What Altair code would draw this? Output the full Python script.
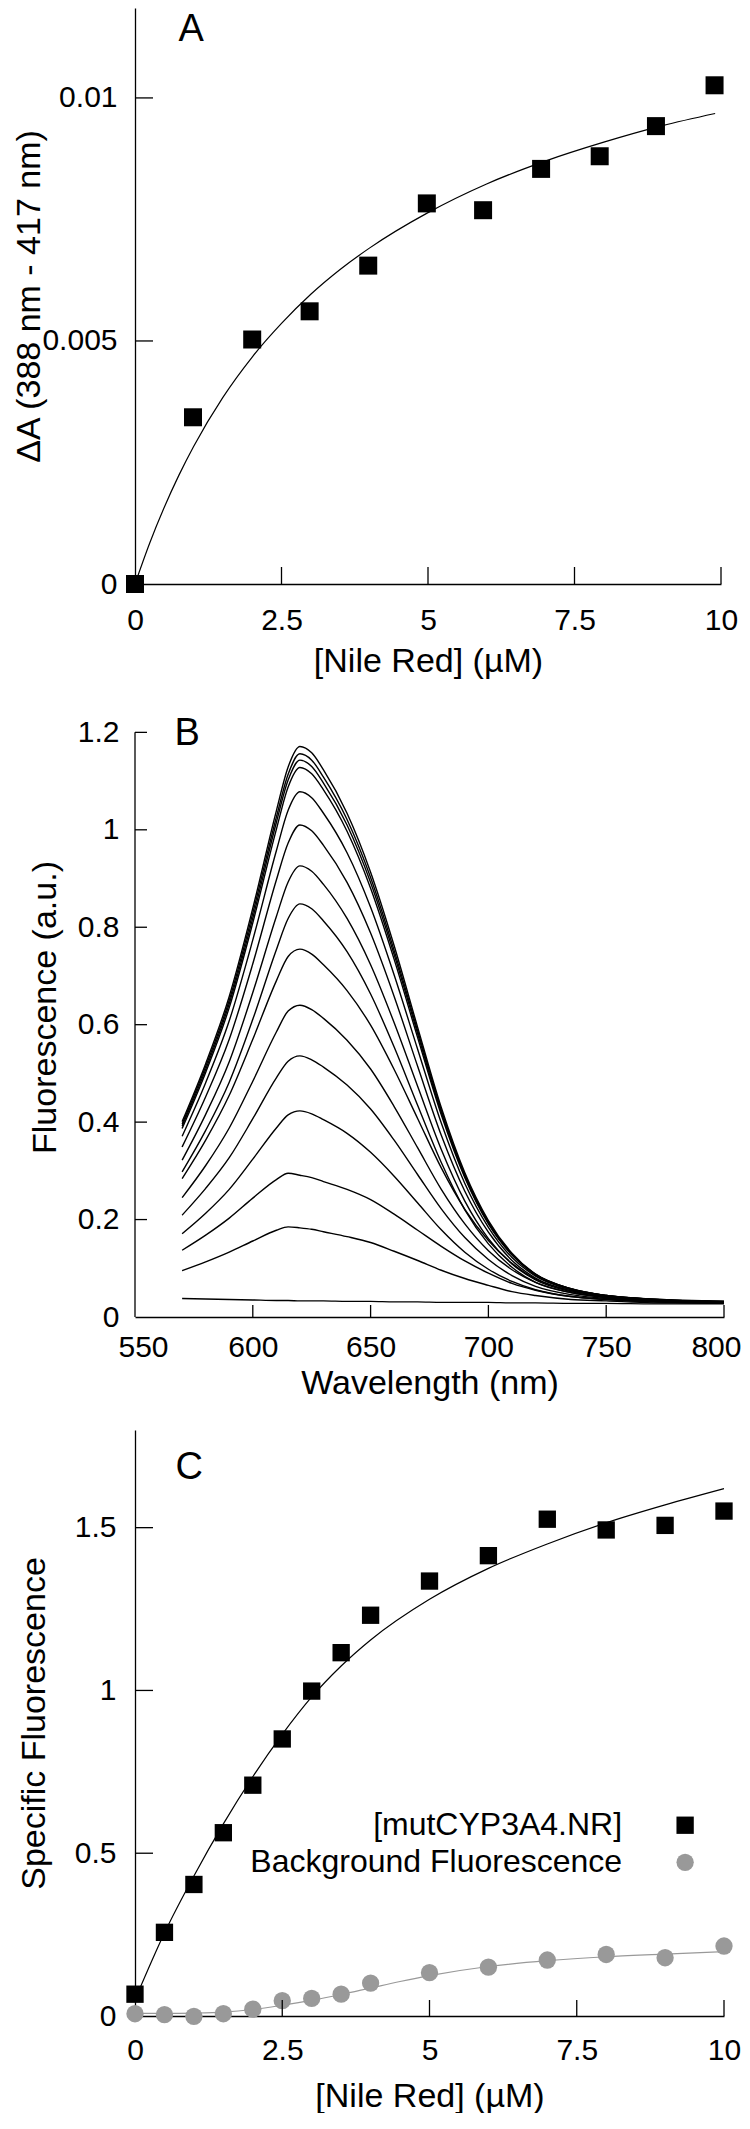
import altair as alt
import pandas as pd

FONT = "Liberation Sans"
INK = "#000000"
GRAY = "#999999"

# ---------------- Panel A : difference absorbance titration ----------------
a_conc = [0, 0.99, 2.0, 2.98, 3.98, 4.98, 5.94, 6.93, 7.93, 8.89, 9.89]
a_delta = [0.0, 0.00343, 0.00503, 0.00561, 0.00655, 0.00783, 0.00769, 0.00854, 0.0088, 0.00942, 0.01026]
a_fit_conc = [0, 0.25, 0.5, 0.75, 1, 1.5, 2, 2.5, 3, 3.5, 4, 5, 6, 7, 8, 9, 9.9]
a_fit_delta = [0, 0.00084, 0.00158, 0.00224, 0.00283, 0.00384, 0.00467, 0.00536, 0.00596, 0.00647,
               0.00691, 0.00764, 0.00823, 0.0087, 0.00909, 0.00943, 0.00968]
a_xvalues = [0, 2.5, 5, 7.5, 10]
a_yvalues = [0, 0.005, 0.01]
a_xticks = [2.5, 5, 7.5, 10]
a_yticks = [0.005, 0.01]

# ---------------- Panel B : emission spectra ----------------
b_wavelength = [570, 580, 590, 600, 610, 615, 620, 625, 630, 640, 650, 660, 670, 680, 690, 700, 710, 720, 735, 750, 770, 800]
b_spec_00 = [0.038, 0.037, 0.036, 0.035, 0.034, 0.034, 0.033, 0.033, 0.033, 0.032, 0.032, 0.031, 0.031, 0.030, 0.030, 0.030, 0.029, 0.029, 0.028, 0.028, 0.027, 0.027]
b_spec_01 = [0.095, 0.113, 0.133, 0.156, 0.178, 0.185, 0.183, 0.180, 0.175, 0.165, 0.153, 0.135, 0.116, 0.096, 0.079, 0.065, 0.052, 0.044, 0.036, 0.033, 0.029, 0.028]
b_spec_02 = [0.137, 0.168, 0.203, 0.244, 0.282, 0.295, 0.291, 0.286, 0.278, 0.262, 0.241, 0.211, 0.178, 0.145, 0.115, 0.090, 0.069, 0.055, 0.042, 0.036, 0.031, 0.029]
b_spec_03 = [0.171, 0.213, 0.262, 0.324, 0.388, 0.415, 0.423, 0.417, 0.405, 0.377, 0.338, 0.289, 0.234, 0.179, 0.133, 0.098, 0.073, 0.056, 0.042, 0.036, 0.031, 0.029]
b_spec_04 = [0.209, 0.264, 0.327, 0.407, 0.491, 0.525, 0.536, 0.528, 0.513, 0.476, 0.427, 0.363, 0.292, 0.222, 0.163, 0.118, 0.085, 0.063, 0.046, 0.038, 0.032, 0.029]
b_spec_05 = [0.245, 0.311, 0.388, 0.484, 0.585, 0.628, 0.640, 0.631, 0.613, 0.568, 0.509, 0.432, 0.347, 0.262, 0.191, 0.136, 0.097, 0.071, 0.050, 0.040, 0.033, 0.030]
b_spec_06 = [0.284, 0.363, 0.455, 0.570, 0.690, 0.740, 0.755, 0.745, 0.723, 0.670, 0.599, 0.508, 0.407, 0.306, 0.221, 0.157, 0.110, 0.078, 0.054, 0.042, 0.035, 0.031]
b_spec_07 = [0.298, 0.383, 0.482, 0.611, 0.754, 0.818, 0.848, 0.838, 0.813, 0.750, 0.663, 0.554, 0.434, 0.317, 0.220, 0.150, 0.102, 0.071, 0.050, 0.040, 0.034, 0.030]
b_spec_08 = [0.322, 0.416, 0.524, 0.666, 0.822, 0.893, 0.926, 0.915, 0.888, 0.818, 0.723, 0.604, 0.473, 0.344, 0.238, 0.161, 0.109, 0.076, 0.052, 0.041, 0.034, 0.031]
b_spec_09 = [0.349, 0.452, 0.570, 0.725, 0.897, 0.973, 1.010, 0.998, 0.968, 0.892, 0.788, 0.658, 0.514, 0.373, 0.258, 0.174, 0.116, 0.080, 0.054, 0.042, 0.035, 0.031]
b_spec_10 = [0.371, 0.481, 0.608, 0.774, 0.957, 1.040, 1.078, 1.066, 1.034, 0.953, 0.841, 0.702, 0.549, 0.398, 0.274, 0.184, 0.122, 0.084, 0.056, 0.043, 0.036, 0.031]
b_spec_11 = [0.387, 0.502, 0.635, 0.809, 1.001, 1.088, 1.128, 1.115, 1.082, 0.997, 0.880, 0.734, 0.573, 0.415, 0.286, 0.191, 0.127, 0.086, 0.057, 0.044, 0.036, 0.032]
b_spec_12 = [0.392, 0.508, 0.643, 0.819, 1.015, 1.102, 1.143, 1.130, 1.096, 1.010, 0.892, 0.744, 0.581, 0.420, 0.289, 0.193, 0.128, 0.087, 0.058, 0.044, 0.036, 0.032]
b_spec_13 = [0.396, 0.514, 0.650, 0.829, 1.026, 1.114, 1.156, 1.143, 1.108, 1.021, 0.902, 0.752, 0.587, 0.425, 0.292, 0.195, 0.129, 0.088, 0.058, 0.044, 0.036, 0.032]
b_spec_14 = [0.401, 0.520, 0.658, 0.839, 1.039, 1.129, 1.171, 1.158, 1.123, 1.034, 0.913, 0.762, 0.594, 0.430, 0.296, 0.198, 0.131, 0.088, 0.058, 0.044, 0.037, 0.032]
b_spectra = [b_spec_00, b_spec_01, b_spec_02, b_spec_03, b_spec_04, b_spec_05, b_spec_06, b_spec_07,
             b_spec_08, b_spec_09, b_spec_10, b_spec_11, b_spec_12, b_spec_13, b_spec_14]
b_xvalues = [550, 600, 650, 700, 750, 800]
b_yvalues = [0, 0.2, 0.4, 0.6, 0.8, 1.0, 1.2]
b_xticks = [600, 650, 700, 750, 800]
b_yticks = [0.2, 0.4, 0.6, 0.8, 1.0, 1.2]

# ---------------- Panel C : specific fluorescence ----------------
c_conc = [0, 0.5, 1, 1.5, 2, 2.5, 3, 3.5, 4, 5, 6, 7, 8, 9, 10]
c_complex = [0.067, 0.257, 0.404, 0.563, 0.709, 0.851, 0.998, 1.116, 1.231, 1.336, 1.414, 1.526, 1.493, 1.507, 1.551]
c_background = [0.007, 0.004, -0.001, 0.007, 0.021, 0.047, 0.054, 0.067, 0.101, 0.133, 0.150, 0.172, 0.189, 0.179, 0.215]
c_fit_conc = [0, 0.5, 1, 1.5, 2, 2.5, 3, 3.5, 4, 5, 6, 7, 8, 9, 10]
c_fit_complex = [0.05, 0.255, 0.43, 0.59, 0.735, 0.865, 0.98, 1.075, 1.155, 1.28, 1.375, 1.45, 1.515, 1.57, 1.62]
c_fit_bg_conc = [0, 0.5, 1, 1.5, 2, 2.5, 3, 3.5, 4, 4.5, 5, 6, 7, 8, 9, 10]
c_fit_background = [0.008, 0.008, 0.009, 0.012, 0.02, 0.033, 0.048, 0.066, 0.086, 0.106, 0.124, 0.152, 0.17, 0.182, 0.19, 0.198]
c_xvalues = [0, 2.5, 5, 7.5, 10]
c_yvalues = [0, 0.5, 1, 1.5]
c_xticks = [2.5, 5, 7.5, 10]
c_yticks = [0.5, 1, 1.5]
legend_labels = ["[mutCYP3A4.NR]", "Background Fluorescence"]

A_W, A_H = 586, 576
B_W, B_H = 589, 620
C_W, C_H = 589, 586


def x_axis(title, values, label_pad, title_off, width, fmt="~g", flush=False):
    if flush:
        kw = dict(labelFlush=True, labelFlushOffset=17)
    else:
        kw = dict(labelFlush=False)
    return alt.Axis(title=title, values=values, format=fmt, ticks=False, grid=False,
                    domainColor=INK, domainWidth=1.3, labelFont=FONT, labelFontSize=30,
                    labelColor=INK, labelPadding=label_pad, labelBaseline="middle",
                    labelOverlap=False,
                    titleFont=FONT, titleFontSize=34, titleFontWeight="normal", titleColor=INK,
                    titleBaseline="middle", titleAlign="center", titleX=width / 2, titleY=title_off,
                    **kw)


def y_axis(title, values, label_pad, title_x, height, domain=True):
    return alt.Axis(title=title, values=values, format="~g", ticks=False, grid=False,
                    domain=domain, domainColor=INK, domainWidth=1.3, labelFont=FONT,
                    labelFontSize=30, labelColor=INK, labelPadding=label_pad,
                    labelFlush=False, labelOverlap=False,
                    titleFont=FONT, titleFontSize=34, titleFontWeight="normal", titleColor=INK,
                    titleBaseline="middle", titleAlign="center", titleAngle=270,
                    titleX=title_x, titleY=height / 2)


def tick_layers(xs, ys, sx, sy, height, xlen, ylen):
    xt = alt.Chart(pd.DataFrame({"t": xs})).mark_rule(color=INK, strokeWidth=1.3).encode(
        x=alt.X("t:Q", scale=sx), y=alt.value(height), y2=alt.value(height - xlen))
    yt = alt.Chart(pd.DataFrame({"t": ys})).mark_rule(color=INK, strokeWidth=1.3).encode(
        y=alt.Y("t:Q", scale=sy), x=alt.value(0), x2=alt.value(ylen))
    return xt, yt


def panel_letter(letter, x, y, sx, sy):
    return alt.Chart(pd.DataFrame({"x": [x], "y": [y], "t": [letter]})).mark_text(
        font=FONT, fontSize=38, color=INK, align="center", baseline="middle").encode(
        x=alt.X("x:Q", scale=sx), y=alt.Y("y:Q", scale=sy), text="t:N")


# ---------- Panel A ----------
sx_a = alt.Scale(domain=[0, 10], nice=False, zero=False)
sy_a = alt.Scale(domain=[0, 0.01185], nice=False, zero=False)
df_a = pd.DataFrame({"x": a_conc, "y": a_delta})
df_a_fit = pd.DataFrame({"x": a_fit_conc, "y": a_fit_delta})

a_line = alt.Chart(df_a_fit).mark_line(color=INK, strokeWidth=1.2, interpolate="monotone").encode(
    x=alt.X("x:Q", scale=sx_a, axis=x_axis("[Nile Red] (µM)", a_xvalues, 36, 77, A_W)),
    y=alt.Y("y:Q", scale=sy_a, axis=y_axis("ΔA (388 nm - 417 nm)", a_yvalues, 18, -106, A_H)))
a_pts = alt.Chart(df_a).mark_square(size=324, color=INK, opacity=1, filled=True).encode(
    x=alt.X("x:Q", scale=sx_a), y=alt.Y("y:Q", scale=sy_a))
a_xt, a_yt = tick_layers(a_xticks, a_yticks, sx_a, sy_a, A_H, 17, 18)
a_lab = panel_letter("A", 0.96, 0.01140, sx_a, sy_a)
panel_a = alt.layer(a_line, a_pts, a_xt, a_yt, a_lab).properties(width=A_W, height=A_H)

# ---------- Panel B ----------
sx_b = alt.Scale(domain=[550, 800], nice=False, zero=False)
sy_b = alt.Scale(domain=[0, 1.2726], nice=False, zero=False)
rows = []
for i, spec in enumerate(b_spectra):
    for w, v in zip(b_wavelength, spec):
        rows.append({"wl": w, "f": v, "curve": i})
df_b = pd.DataFrame(rows)
b_lines = alt.Chart(df_b).mark_line(color=INK, strokeWidth=1.4, interpolate="monotone").encode(
    x=alt.X("wl:Q", scale=sx_b, axis=x_axis("Wavelength (nm)", b_xvalues, 30, 66, B_W, fmt="d", flush=True)),
    y=alt.Y("f:Q", scale=sy_b, axis=y_axis("Fluorescence (a.u.)", b_yvalues, 16, -90, B_H, domain=False)),
    detail="curve:N")
b_yline = alt.Chart(pd.DataFrame({"lo": [0.0], "hi": [1.2]})).mark_rule(color=INK, strokeWidth=1.3).encode(
    x=alt.value(0), y=alt.Y("lo:Q", scale=sy_b), y2="hi:Q")
b_xt, b_yt = tick_layers(b_xticks, b_yticks, sx_b, sy_b, B_H, 12, 12)
b_lab = panel_letter("B", 572.1, 1.197, sx_b, sy_b)
panel_b = alt.layer(b_lines, b_yline, b_xt, b_yt, b_lab).properties(width=B_W, height=B_H)

# ---------- Panel C ----------
sx_c = alt.Scale(domain=[0, 10], nice=False, zero=False)
sy_c = alt.Scale(domain=[0, 1.8], nice=False, zero=False)
df_c = pd.DataFrame({"x": c_conc, "sq": c_complex, "bg": c_background})
df_c_fit = pd.DataFrame({"x": c_fit_conc, "y": c_fit_complex})
df_c_bgfit = pd.DataFrame({"x": c_fit_bg_conc, "y": c_fit_background})

c_bgline = alt.Chart(df_c_bgfit).mark_line(color=GRAY, strokeWidth=1.2, interpolate="monotone").encode(
    x=alt.X("x:Q", scale=sx_c, axis=x_axis("[Nile Red] (µM)", c_xvalues, 34, 80, C_W)),
    y=alt.Y("y:Q", scale=sy_c, axis=y_axis("Specific Fluorescence", c_yvalues, 19, -101, C_H)))
c_line = alt.Chart(df_c_fit).mark_line(color=INK, strokeWidth=1.2, interpolate="monotone").encode(
    x=alt.X("x:Q", scale=sx_c), y=alt.Y("y:Q", scale=sy_c))
c_bgpts = alt.Chart(df_c).mark_circle(size=300, color=GRAY, opacity=1).encode(
    x=alt.X("x:Q", scale=sx_c), y=alt.Y("bg:Q", scale=sy_c))
c_pts = alt.Chart(df_c).mark_square(size=300, color=INK, opacity=1, filled=True).encode(
    x=alt.X("x:Q", scale=sx_c), y=alt.Y("sq:Q", scale=sy_c))
c_xt, c_yt = tick_layers(c_xticks, c_yticks, sx_c, sy_c, C_H, 16, 18)
c_lab = panel_letter("C", 0.92, 1.683, sx_c, sy_c)

leg_df = pd.DataFrame({"label": legend_labels, "tx": [8.27, 8.27], "sx": [9.34, 9.34], "ly": [0.586, 0.472]})
leg_text = alt.Chart(leg_df).mark_text(font=FONT, fontSize=32, color=INK, align="right", baseline="middle").encode(
    x=alt.X("tx:Q", scale=sx_c), y=alt.Y("ly:Q", scale=sy_c), text="label:N")
leg_sq = alt.Chart(leg_df.iloc[[0]]).mark_square(size=300, color=INK, opacity=1, filled=True).encode(
    x=alt.X("sx:Q", scale=sx_c), y=alt.Y("ly:Q", scale=sy_c))
leg_ci = alt.Chart(leg_df.iloc[[1]]).mark_circle(size=300, color=GRAY, opacity=1).encode(
    x=alt.X("sx:Q", scale=sx_c), y=alt.Y("ly:Q", scale=sy_c))

panel_c = alt.layer(c_bgline, c_line, c_bgpts, c_pts, c_xt, c_yt, c_lab, leg_text, leg_sq, leg_ci).properties(
    width=C_W, height=C_H)

chart = alt.vconcat(panel_a, panel_b, panel_c, spacing=113, bounds="flush").properties(
    padding={"left": 4, "right": 0, "top": 0, "bottom": 0}
).configure(font=FONT, background="white").configure_view(stroke=None)

chart.save("out.html", embed_options={"renderer": "svg", "actions": False})
